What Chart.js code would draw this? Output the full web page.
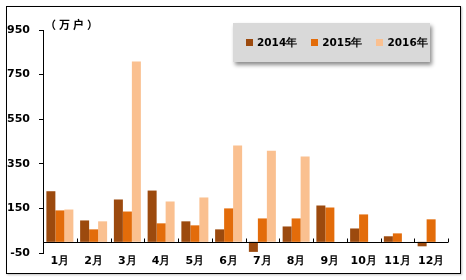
<!DOCTYPE html>
<html>
<head>
<meta charset="utf-8">
<script src="https://cdn.jsdelivr.net/npm/chart.js@4/dist/chart.umd.min.js"></script>
<style>
  html, body { margin: 0; padding: 0; background: #fff; }
  #wrap { position: relative; width: 466px; height: 280px; overflow: hidden; }
  #frame { position: absolute; left: 6px; top: 6px; width: 453px; height: 266px; border: 1px solid #000; box-shadow: 1px 1px 2px rgba(0,0,0,0.25); }
  #c { position: absolute; left: 0; top: 0; }
  #unit { position: absolute; left: 45px; top: 16px; font: bold 11px "Noto Sans CJK SC", sans-serif; color: #000; white-space: nowrap; letter-spacing: 3px; }
  #legend { position: absolute; left: 233px; top: 23px; width: 197px; height: 39px; background: #D9D9D9; box-shadow: 2px 3px 4px rgba(0,0,0,0.45); display: flex; align-items: center; padding-left: 13px; box-sizing: border-box; white-space: nowrap; }
  .item { display: flex; align-items: center; flex-shrink: 0; margin-right: 14px; font: bold 10.5px "DejaVu Sans", sans-serif; color: #000; white-space: nowrap; }
  .sw { width: 7px; height: 7px; margin-right: 4px; flex-shrink: 0; }
</style>
</head>
<body>
<div id="wrap">
  <div id="frame"></div>
  <canvas id="c" width="466" height="280"></canvas>
  <div id="unit">（万户）</div>
  <div id="legend"></div>
</div>
<script>
const categories = ["1月","2月","3月","4月","5月","6月","7月","8月","9月","10月","11月","12月"];
const seriesNames = ["2014年","2015年","2016年"];
const values2014 = [227, 96, 190, 230, 92, 56, -45, 69, 163, 60, 25, -20];
const values2015 = [141, 56, 136, 83, 74, 150, 105, 105, 154, 123, 38, 101];
const values2016 = [145, 92, 809, 181, 199, 432, 409, 383, null, null, null, null];
const yTicks = [-50, 150, 350, 550, 750, 950];
const colors = ["#9C4A0E", "#E36C0A", "#FAC090"];

const seriesValues = [values2014, values2015, values2016];

// HTML legend
const lg = document.getElementById('legend');
seriesNames.forEach((n, i) => {
  const d = document.createElement('div'); d.className = 'item';
  const s = document.createElement('div'); s.className = 'sw'; s.style.background = colors[i];
  const t = document.createElement('span'); t.textContent = n;
  d.appendChild(s); d.appendChild(t); lg.appendChild(d);
});

const zeroLine = {
  id: 'zeroLine',
  afterDatasetsDraw(chart) {
    const {ctx, chartArea, scales} = chart;
    const y0 = Math.round(scales.y.getPixelForValue(0)) + 0.5;
    ctx.save();
    ctx.strokeStyle = '#000';
    ctx.lineWidth = 1;
    ctx.beginPath();
    ctx.moveTo(chartArea.left, y0);
    ctx.lineTo(chartArea.right, y0);
    const xs = scales.x;
    const half = (xs.getPixelForValue(1) - xs.getPixelForValue(0)) / 2;
    for (let i = 0; i < categories.length; i++) {
      const bx = Math.round(xs.getPixelForValue(i) + half) + 0.5;
      ctx.moveTo(bx, y0);
      ctx.lineTo(bx, y0 - 4);
    }
    ctx.stroke();
    ctx.restore();
  }
};

new Chart(document.getElementById('c'), {
  type: 'bar',
  data: {
    labels: categories,
    datasets: seriesNames.map((n, i) => ({
      label: n,
      data: seriesValues[i],
      backgroundColor: colors[i],
      borderWidth: 0,
      categoryPercentage: 0.8,
      barPercentage: 1.0
    }))
  },
  options: {
    responsive: false,
    animation: false,
    devicePixelRatio: 1,
    layout: { padding: { left: 0, top: 30, right: 18, bottom: 0 } },
    plugins: { legend: { display: false }, tooltip: { enabled: false } },
    scales: {
      x: {
        grid: { display: false, drawTicks: false, tickLength: 0 },
        border: { display: false },
        ticks: { color: '#000', font: { family: 'DejaVu Sans', size: 11, weight: 'bold' }, padding: 2, maxRotation: 0, autoSkip: false },
        afterFit(s) { s.height = 27; }
      },
      y: {
        min: -50, max: 950,
        afterBuildTicks(s) { s.ticks = yTicks.map(v => ({ value: v })); },
        grid: { drawOnChartArea: false, tickLength: 4, color: '#000' },
        border: { display: true, color: '#000', width: 1 },
        ticks: { color: '#000', font: { family: 'DejaVu Sans', size: 11, weight: 'bold' }, padding: 9 },
        afterFit(s) { s.width = 43; }
      }
    }
  },
  plugins: [zeroLine]
});
</script>
</body>
</html>
